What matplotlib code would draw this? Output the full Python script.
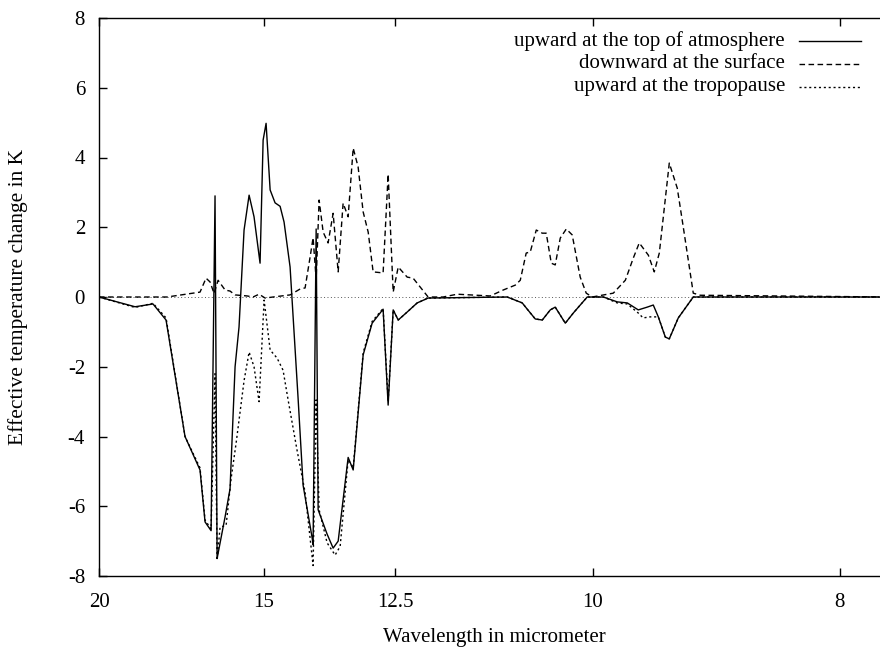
import numpy as np
import matplotlib
matplotlib.use("Agg")
import matplotlib.pyplot as plt

plt.rcParams['font.family'] = ['Liberation Serif', 'DejaVu Serif']
plt.rcParams['axes.unicode_minus'] = False

# wavenumber (cm-1) and effective temperature change (K)
toa_nu = [500, 536.5, 554.7, 567.9, 587.1, 602.3, 607.4, 613.5, 617.5, 619.6,
          627.7, 632.7, 637.8, 641.8, 646.9, 652, 657, 663.1, 666.2, 669.2,
          673.3, 678.3, 683.4, 687.4, 693.5, 701.6, 706.7, 715.8, 716.8, 719.9,
          721.9, 731, 737.1, 742.2, 752.3, 757.4, 767.5, 776.6, 787.7, 792.8,
          797.9, 803, 812.1, 822.2, 833.3, 913.4, 928.6, 933.7, 941.8, 948.9,
          957, 962, 972.2, 980.3, 994.4, 1010.7, 1024.8, 1035, 1046.1, 1055.2,
          1061.3, 1066.4, 1073.5, 1077.5, 1086.6, 1101.8, 1300]
toa_dT = [0, -0.28, -0.2, -0.66, -4.0, -4.96, -6.45, -6.7, 2.9, -7.5,
          -6.3, -5.5, -2.0, -0.86, 1.92, 2.92, 2.3, 0.97, 4.5, 4.98,
          3.07, 2.7, 2.6, 2.15, 0.86, -2.9, -5.4, -6.9, -7.1, 1.95,
          -6.1, -6.8, -7.2, -7.0, -4.6, -4.96, -1.66, -0.75, -0.35, -3.1,
          -0.37, -0.66, -0.43, -0.17, -0.03, 0, -0.17, -0.35, -0.63, -0.66,
          -0.37, -0.29, -0.75, -0.46, 0, 0, -0.14, -0.17, -0.37, -0.29,
          -0.23, -0.57, -1.15, -1.2, -0.6, 0, 0]

sfc_nu = [500, 568.9, 602.3, 608.4, 612.5, 616.5, 620.6, 627.7, 632.7, 637.8,
          650, 656, 662.1, 668.2, 676.3, 693.5, 703.7, 708.7, 713.8, 716.8,
          719.9, 722.9, 727, 732, 737.1, 742.2, 747.2, 752.3, 757.4, 762.4,
          767.5, 772.6, 777.6, 787.7, 792.8, 797.9, 803, 812.1, 818.1, 833.3,
          848.5, 862.7, 896.2, 909.3, 921.5, 926.6, 932.6, 936.7, 942.8, 948.9,
          952.9, 958, 962, 967.1, 973.2, 979.2, 987.3, 993.4, 999.5, 1020.8,
          1033, 1041.1, 1047.1, 1056.3, 1062.3, 1067.4, 1077.5, 1085.6, 1091.7,
          1101.8, 1108.9, 1300]
sfc_dT = [0, 0, 0.14, 0.54, 0.43, 0.1, 0.48, 0.2, 0.17, 0.06,
          0.03, 0, 0.08, -0.03, 0, 0.06, 0.23, 0.26, 1.15, 1.7,
          0.5, 2.78, 1.86, 1.55, 2.4, 0.72, 2.69, 2.3, 4.27, 3.73,
          2.44, 1.86, 0.72, 0.69, 3.52, 0.14, 0.86, 0.57, 0.54, 0,
          0, 0.08, 0.03, 0.2, 0.34, 0.48, 1.26, 1.29, 1.92, 1.83,
          1.83, 0.97, 0.92, 1.69, 1.95, 1.78, 0.57, 0.11, 0, 0.11,
          0.48, 1.12, 1.55, 1.2, 0.72, 1.26, 3.84, 3.12, 2.0,
          0.11, 0.05, 0]

trop_nu = [500, 536.5, 554.7, 567.9, 587.1, 602.3, 607.4, 613.5, 617.5, 619.6,
           622.6, 628.7, 633.8, 638.8, 646.9, 652, 657, 662.1, 667.2, 673.3,
           680.3, 686.4, 691.5, 700.6, 708.7, 716.8, 719.9, 722.9, 731, 739.1,
           744.2, 752.3, 757.4, 767.5, 776.6, 787.7, 792.8, 797.9, 803, 812.1,
           822.2, 833.3, 913.4, 928.6, 933.7, 941.8, 948.9, 957, 962, 972.2,
           980.3, 994.4, 1010.7, 1024.8, 1035, 1046.1, 1051, 1058, 1066.4,
           1073.5, 1077.5, 1086.6, 1101.8, 1300]
trop_dT = [0, -0.3, -0.18, -0.6, -4.0, -4.9, -6.4, -6.65, -2.2, -7.55,
           -6.6, -6.55, -5.2, -4.2, -2.4, -1.58, -2.0, -3.0, -0.09, -1.52,
           -1.75, -2.1, -2.95, -4.4, -5.6, -7.7, -2.95, -6.1, -7.05, -7.4,
           -7.15, -4.67, -4.9, -1.6, -0.7, -0.33, -3.0, -0.37, -0.66, -0.43,
           -0.17, -0.03, 0, -0.17, -0.35, -0.63, -0.66, -0.37, -0.29, -0.75,
           -0.46, 0, 0, -0.17, -0.2, -0.46, -0.6, -0.57, -0.57,
           -1.15, -1.2, -0.6, 0, 0]

wl_ticks = [20, 15, 12.5, 10, 8]
wl_labels = ["20", "15", "12.5", "10", "8"]
y_ticks = [-8, -6, -4, -2, 0, 2, 4, 6, 8]

fig = plt.figure(figsize=(8.8, 6.52), dpi=100)
# right border of the gnuplot frame lies just outside the picture
ax = fig.add_axes([99 / 880, 1 - 576 / 652, 790 / 880, 558 / 652])

ax.axhline(0, color="#555555", lw=0.7, ls=(0, (1, 2.5)))
ax.plot(toa_nu, toa_dT, color="black", lw=1.0)
ax.plot(sfc_nu, sfc_dT, color="black", lw=1.0, ls=(0, (4, 2.5)))
ax.plot(trop_nu, trop_dT, color="black", lw=1.0, ls=(0, (1.5, 2)))

ax.set_xlim(500, 1300)
ax.set_ylim(-8, 8)
ax.set_xticks([1e4 / w for w in wl_ticks])
ax.set_xticklabels(wl_labels)
ax.set_yticks(y_ticks)
ax.tick_params(direction="in", length=6, width=1, labelsize=15,
               top=True, right=True)
ax.tick_params(axis="x", pad=12)
ax.tick_params(axis="y", pad=10)
for s in ax.spines.values():
    s.set_linewidth(1.0)

ax.set_xlabel("Wavelength in micrometer", fontsize=15, labelpad=12)
fig.text(18 / 880, 1 - 297 / 652, "Effective temperature change in K",
         rotation=90, ha="center", va="center", fontsize=15.5)

# gnuplot-style key: right-aligned text, sample line to the right
key_labels = ["upward at the top of atmosphere", "downward at the surface",
              "upward at the tropopause"]
key_styles = ["-", (0, (4, 2.5)), (0, (1.5, 2))]
key_rows = [41, 64, 87]
for lab, st, yp in zip(key_labels, key_styles, key_rows):
    yf = 1 - yp / 652
    fig.text(785 / 880, yf, lab, ha="right", va="center", fontsize=15)
    fig.add_artist(plt.Line2D([799 / 880, 861 / 880], [yf, yf], color="black",
                              lw=1.0, ls=st, transform=fig.transFigure))

fig.savefig("out.png", dpi=100)
